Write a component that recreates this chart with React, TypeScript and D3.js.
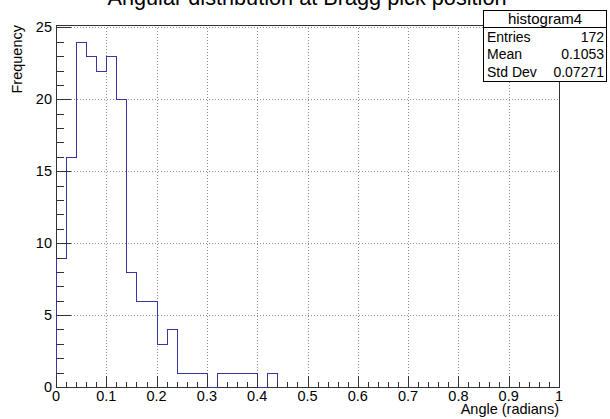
import React from "react";
import * as d3 from "d3";

// Histogram contents: 0.02-rad bins starting at 0 (remaining bins up to 1 are empty)
const binWidth = 0.02;
const binCounts = [9, 16, 24, 23, 22, 23, 20, 8, 6, 6, 3, 4, 1, 1, 1, 0, 1, 1, 1, 1, 0, 1];
const xTicks = [0, 0.1, 0.2, 0.3, 0.4, 0.5, 0.6, 0.7, 0.8, 0.9, 1];
const yTicks = [0, 5, 10, 15, 20, 25];
const statLabels = ["Entries", "Mean", "Std Dev"];
const statValues = ["172", "0.1053", "0.07271"];

const W = 610;
const H = 419;
const FONT = "'Liberation Sans', Arial, Helvetica, sans-serif";

const frame = { left: 56, right: 559, top: 24.5, bottom: 387 };

export default function App() {
  const x = d3.scaleLinear().domain([0, 1]).range([frame.left, frame.right]);
  const y = d3.scaleLinear().domain([0, 25.2]).range([frame.bottom, frame.top]);

  // Step outline of the histogram
  const pts: [number, number][] = [[0, 0]];
  binCounts.forEach((c, i) => {
    pts.push([i * binWidth, c]);
    pts.push([(i + 1) * binWidth, c]);
  });
  pts.push([binCounts.length * binWidth, 0]);
  const line = d3
    .line<[number, number]>()
    .x((d) => Math.round(x(d[0])) + 0.5)
    .y((d) => Math.round(y(d[1])) + 0.5);

  const xMinor = d3.range(0, 51).map((i) => i * 0.02);
  const yMinor = d3.range(0, 26);

  const px = (v: number) => Math.round(x(v)) + 0.5;
  const py = (v: number) => Math.round(y(v)) + 0.5;

  const box = { left: 483.5, right: 606.5, top: 10.5, sep: 27.5, bottom: 81.5 };
  const rowBase = [41.5, 59, 76.5];

  return (
    <div style={{ position: "absolute", left: 0, top: 0 }}>
      <svg width={W} height={H} style={{ display: "block", background: "#fff" }} fontFamily={FONT}>
        {/* grid */}
        <g stroke="#8c8c8c" strokeWidth={1} strokeDasharray="1,2" shapeRendering="crispEdges">
          {xTicks.slice(1, -1).map((t) => (
            <line key={"gx" + t} x1={px(t)} x2={px(t)} y1={frame.top} y2={frame.bottom} />
          ))}
          {yTicks.slice(1).map((t) => (
            <line key={"gy" + t} x1={frame.left} x2={frame.right} y1={py(t)} y2={py(t)} />
          ))}
        </g>

        {/* frame */}
        <rect
          x={frame.left + 0.5}
          y={Math.round(frame.top) + 0.5}
          width={frame.right - frame.left}
          height={frame.bottom - Math.round(frame.top)}
          fill="none"
          stroke="#333"
          strokeWidth={1}
          shapeRendering="crispEdges"
        />

        {/* histogram */}
        <path d={line(pts) || ""} fill="none" stroke="#3636a8" strokeWidth={1} shapeRendering="crispEdges" />

        {/* axis ticks */}
        <g stroke="#333" strokeWidth={1} shapeRendering="crispEdges">
          {xMinor.map((t, i) => (
            <line
              key={"xt" + i}
              x1={px(t)}
              x2={px(t)}
              y1={frame.bottom}
              y2={frame.bottom - (i % 5 === 0 ? 11 : 5.5)}
            />
          ))}
          {yMinor.map((t) => (
            <line
              key={"yt" + t}
              x1={frame.left}
              x2={frame.left + (t % 5 === 0 ? 15 : 7.5)}
              y1={py(t)}
              y2={py(t)}
            />
          ))}
        </g>

        {/* tick labels */}
        <g fontSize={14.5} fill="#000">
          {xTicks.map((t) => (
            <text key={"xl" + t} x={x(t)} y={401} textAnchor="middle">
              {d3.format("~g")(t)}
            </text>
          ))}
          {yTicks.map((t) => (
            <text key={"yl" + t} x={52} y={y(t) + 5} textAnchor="end">
              {t}
            </text>
          ))}
        </g>

        {/* axis titles */}
        <text x={frame.right} y={414} textAnchor="end" fontSize={14.5}>
          Angle (radians)
        </text>
        <text transform={`translate(22,25) rotate(-90)`} textAnchor="end" fontSize={14.5}>
          Frequency
        </text>

        {/* title */}
        <text x={W / 2 + 2} y={4.5} textAnchor="middle" fontSize={21.7}>
          Angular distribution at Bragg pick position
        </text>

        {/* statistics box */}
        <g>
          <rect
            x={box.left}
            y={box.top}
            width={box.right - box.left}
            height={box.bottom - box.top}
            fill="#fff"
            stroke="#000"
            strokeWidth={1}
            shapeRendering="crispEdges"
          />
          <line x1={box.left} x2={box.right} y1={box.sep} y2={box.sep} stroke="#000" shapeRendering="crispEdges" />
          <text x={(box.left + box.right) / 2} y={23.5} textAnchor="middle" fontSize={15}>
            histogram4
          </text>
          {statLabels.map((s, i) => (
            <g key={s} fontSize={14}>
              <text x={box.left + 3.5} y={rowBase[i]}>
                {s}
              </text>
              <text x={box.right - 2.5} y={rowBase[i]} textAnchor="end">
                {statValues[i]}
              </text>
            </g>
          ))}
        </g>
      </svg>
    </div>
  );
}
